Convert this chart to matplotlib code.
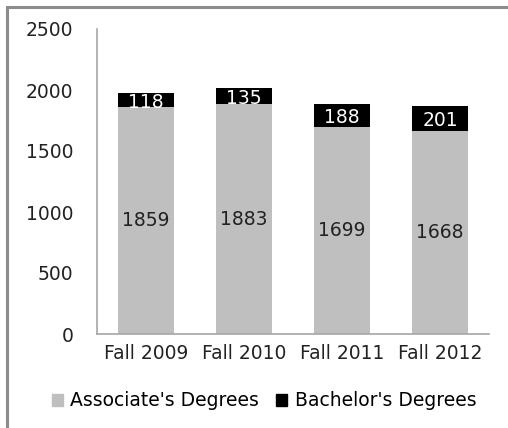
import matplotlib
matplotlib.use("Agg")
import matplotlib.pyplot as plt
from matplotlib.patches import Rectangle, Patch

categories = ["Fall 2009", "Fall 2010", "Fall 2011", "Fall 2012"]
associate = [1859, 1883, 1699, 1668]
bachelor = [118, 135, 188, 201]
yticks = [0, 500, 1000, 1500, 2000, 2500]

plt.rcParams['font.family'] = ['DejaVu Sans']
FS = 13.5

W, H = 508, 428
fig = plt.figure(figsize=(W / 100, H / 100), dpi=100)

# outer border (chart area cropped on right/bottom)
fig.patches.append(Rectangle((7 / W, -0.1), 1.2, 1 - 7 / H + 0.1, transform=fig.transFigure,
                             fill=False, edgecolor="#8c8c8c", linewidth=2.2))

left, right = 97 / W, 489 / W
top, bottom = 1 - 29 / H, 1 - 334 / H
ax = fig.add_axes([left, bottom, right - left, top - bottom])

x = list(range(len(categories)))
bw = 0.57
ax.bar(x, associate, width=bw, color="#BFBFBF", label="Associate's Degrees")
ax.bar(x, bachelor, width=bw, bottom=associate, color="#000000", label="Bachelor's Degrees")

for i in x:
    ax.text(i, associate[i] / 2, str(associate[i]), ha="center", va="center",
            fontsize=FS, color="#222222")
    ax.text(i, associate[i] + bachelor[i] / 2 - 20, str(bachelor[i]), ha="center", va="center",
            fontsize=FS, color="white")

ax.set_xlim(-0.5, len(categories) - 0.5)
ax.set_ylim(0, 2500)
ax.set_yticks(yticks)
ax.set_xticks(x)
ax.set_xticklabels(categories)
ax.tick_params(axis="both", length=0, labelsize=FS, colors="#222222")
ax.tick_params(axis="y", pad=17)
ax.tick_params(axis="x", pad=7)
for s in ["top", "right"]:
    ax.spines[s].set_visible(False)
for s in ["left", "bottom"]:
    ax.spines[s].set_color("#a6a6a6")
    ax.spines[s].set_linewidth(1.2)

handles = [Patch(color="#BFBFBF"), Patch(color="#000000")]
fig.legend(handles, ["Associate's Degrees", "Bachelor's Degrees"], loc="center",
           bbox_to_anchor=(264 / W, 1 - 401 / H), ncol=2, frameon=False,
           fontsize=FS, handlelength=0.6, handleheight=0.6, handletextpad=0.4,
           columnspacing=0.9)

fig.savefig("out.png", dpi=100)
